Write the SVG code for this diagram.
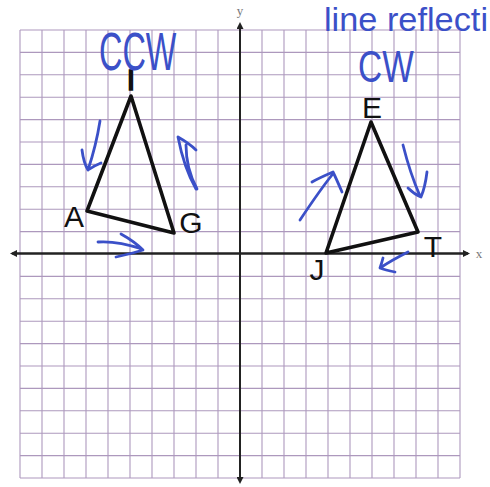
<svg xmlns="http://www.w3.org/2000/svg" width="490" height="487" viewBox="0 0 490 487">
<style>
.grid line{stroke:#ad98bd;stroke-width:1.1}
.axis{stroke:#222;stroke-width:2}
.tri{fill:none;stroke:#111;stroke-width:3.6;stroke-linejoin:round}
.lbl{font-family:"Liberation Sans",Arial,sans-serif;font-size:30px;fill:#111;text-anchor:middle}
.ax{font-family:"Liberation Serif",serif;font-size:13px;fill:#777;text-anchor:middle}
.ink{fill:none;stroke:#3b50c8;stroke-width:2.8;stroke-linecap:round;stroke-linejoin:round}
.hw{font-family:"Liberation Sans",Arial,sans-serif;fill:#3b50c8;font-weight:normal}
</style>
<defs>
<marker id="ah" markerWidth="7" markerHeight="7" refX="5" refY="3.5" orient="auto" markerUnits="userSpaceOnUse"><path d="M0,0 L7,3.5 L0,7 Z" fill="#222"/></marker>
</defs>
<rect width="490" height="487" fill="#fff"/>
<g class="grid" id="grid">
<line x1="20" y1="30" x2="20" y2="478"/><line x1="42" y1="30" x2="42" y2="478"/><line x1="64" y1="30" x2="64" y2="478"/><line x1="86" y1="30" x2="86" y2="478"/><line x1="108" y1="30" x2="108" y2="478"/><line x1="130" y1="30" x2="130" y2="478"/><line x1="152" y1="30" x2="152" y2="478"/><line x1="174" y1="30" x2="174" y2="478"/><line x1="196" y1="30" x2="196" y2="478"/><line x1="218" y1="30" x2="218" y2="478"/>
<line x1="262" y1="30" x2="262" y2="478"/><line x1="284" y1="30" x2="284" y2="478"/><line x1="306" y1="30" x2="306" y2="478"/><line x1="328" y1="30" x2="328" y2="478"/><line x1="350" y1="30" x2="350" y2="478"/><line x1="372" y1="30" x2="372" y2="478"/><line x1="394" y1="30" x2="394" y2="478"/><line x1="416" y1="30" x2="416" y2="478"/><line x1="438" y1="30" x2="438" y2="478"/><line x1="460" y1="30" x2="460" y2="478"/>
<line x1="20" y1="30" x2="460" y2="30"/><line x1="20" y1="52.4" x2="460" y2="52.4"/><line x1="20" y1="74.8" x2="460" y2="74.8"/><line x1="20" y1="97.2" x2="460" y2="97.2"/><line x1="20" y1="119.6" x2="460" y2="119.6"/><line x1="20" y1="142" x2="460" y2="142"/><line x1="20" y1="164.4" x2="460" y2="164.4"/><line x1="20" y1="186.8" x2="460" y2="186.8"/><line x1="20" y1="209.2" x2="460" y2="209.2"/><line x1="20" y1="231.6" x2="460" y2="231.6"/>
<line x1="20" y1="276.4" x2="460" y2="276.4"/><line x1="20" y1="298.8" x2="460" y2="298.8"/><line x1="20" y1="321.2" x2="460" y2="321.2"/><line x1="20" y1="343.6" x2="460" y2="343.6"/><line x1="20" y1="366" x2="460" y2="366"/><line x1="20" y1="388.4" x2="460" y2="388.4"/><line x1="20" y1="410.8" x2="460" y2="410.8"/><line x1="20" y1="433.2" x2="460" y2="433.2"/><line x1="20" y1="455.6" x2="460" y2="455.6"/><line x1="20" y1="478" x2="460" y2="478"/>
</g>
<g id="axes">
<line class="axis" x1="14" y1="253.5" x2="468" y2="253.5" marker-end="url(#ah)"/>
<line class="axis" x1="468" y1="253.5" x2="12" y2="253.5" marker-end="url(#ah)"/>
<line class="axis" x1="240" y1="480" x2="240" y2="24" marker-end="url(#ah)"/>
<line class="axis" x1="240" y1="25" x2="240" y2="482" marker-end="url(#ah)"/>
<text class="ax" x="240" y="15">y</text>
<text class="ax" x="479" y="258">x</text>
</g>
<g id="connectors">
<polygon class="tri" id="tri-AIG" points="131,96 87,211 174,233"/>
<polygon class="tri" id="tri-EJT" points="371,122 326,253 418,232"/>
</g>
<g id="node-I"><text class="lbl" x="131" y="90" stroke="#111" stroke-width="1.6">I</text></g>
<g id="node-A"><text class="lbl" x="74" y="227">A</text></g>
<g id="node-G"><text class="lbl" x="191" y="233">G</text></g>
<g id="node-E"><text class="lbl" x="372" y="118">E</text></g>
<g id="node-T"><text class="lbl" x="433" y="257">T</text></g>
<g id="node-J"><text class="lbl" x="317" y="280">J</text></g>
<g id="annotations">
<text class="hw" x="99" y="70" font-size="54" transform="translate(99 70) scale(0.6 1) translate(-99 -70)">CCW</text>
<text class="hw" x="358" y="82" font-size="44" transform="translate(358 82) scale(0.76 1) translate(-358 -82)">CW</text>
<text class="hw" x="324" y="31" font-size="33" textLength="164" lengthAdjust="spacingAndGlyphs">line reflecti</text>
<path class="ink" d="M100,121 C97,140 93,155 88,170 M82,150 C83,158 85,165 88,170 C92,167 96,165 101,163"/>
<path class="ink" d="M196,189 C188,175 182,158 178,137 C185,141 191,145 196,150 M186,145 C186,160 190,176 197,189"/>
<path class="ink" d="M98,242 C112,241 127,244 142,249 M121,234 C130,239 137,244 143,250 C134,253 125,255 116,257"/>
<path class="ink" d="M300,220 C310,205 320,190 332,175 M312,182 C319,178 326,175 333,172 C336,178 339,185 342,192"/>
<path class="ink" d="M403,145 C408,165 413,180 420,196 M408,188 C412,192 416,195 421,197 C424,190 426,180 427,172"/>
<path class="ink" d="M408,252 C398,257 389,262 380,268 M383,258 C382,262 381,265 380,268 C385,270 390,271 395,272"/>
</g>
</svg>
